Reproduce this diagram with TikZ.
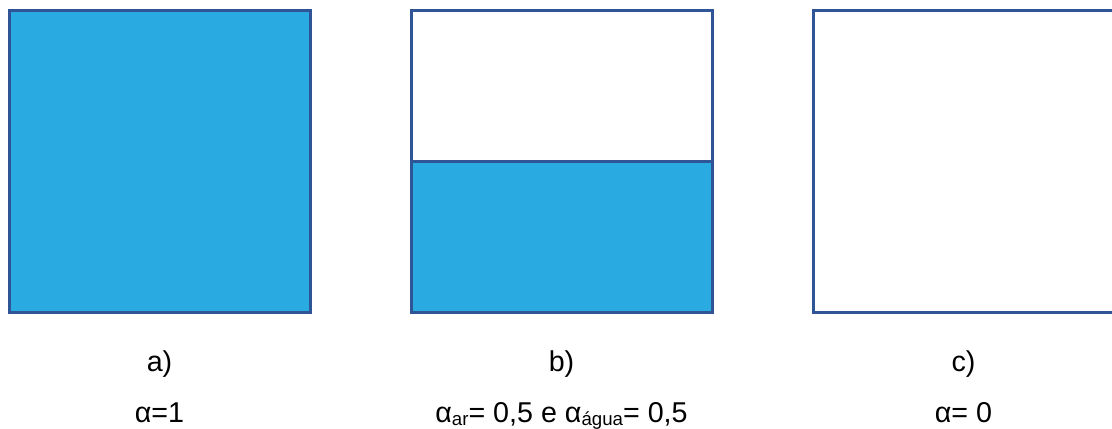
\documentclass[tikz,border=0pt]{standalone}
\usepackage{fontspec}
\setmainfont{Liberation Sans}
\usetikzlibrary{positioning}
\definecolor{edgeblue}{RGB}{47,85,151}
\definecolor{waterblue}{RGB}{41,171,226}
\newcommand{\subtxt}[1]{\raisebox{-2.5pt}{\fontsize{14}{14}\selectfont #1}}

\begin{document}
\begin{tikzpicture}[x=0.75pt, y=-0.75pt, every node/.style={align=center}]
        % styles
        \tikzstyle{cell} = [rectangle, inner sep=0pt, outer sep=0pt, minimum width=225.75pt, minimum height=225.75pt, draw=edgeblue, line width=2.25pt, fill=white]
        \tikzstyle{water} = [cell, fill=waterblue]
        \tikzstyle{caption} = [anchor=base, inner sep=0pt, font=\fontsize{21.5}{21.5}\selectfont]

        \useasboundingbox (0,0) rectangle (1112,428);
        \clip (0,0) rectangle (1112,428);

        % containers
        \node (boxA) [water] at (159.5,161.5) {};
        \node (boxB) [cell] at (561.5,161.5) {};
        \node (halfB) [water, minimum height=112.875pt, anchor=south] at (boxB.south) {};
        \node (boxC) [cell] at (963.5,161.5) {};

        % labels
        \node (labA) [caption] at (159.5,371) {a)};
        \node (labB) [caption] at (561.5,371) {b)};
        \node (labC) [caption] at (963.5,371) {c)};
        \node (fracA) [caption] at (159.5,422) {α=1};
        \node (fracB) [caption] at (561.5,422) {α\subtxt{ar}= 0,5 e α\subtxt{água}= 0,5};
        \node (fracC) [caption] at (963.5,422) {α= 0};
\end{tikzpicture}
\end{document}
